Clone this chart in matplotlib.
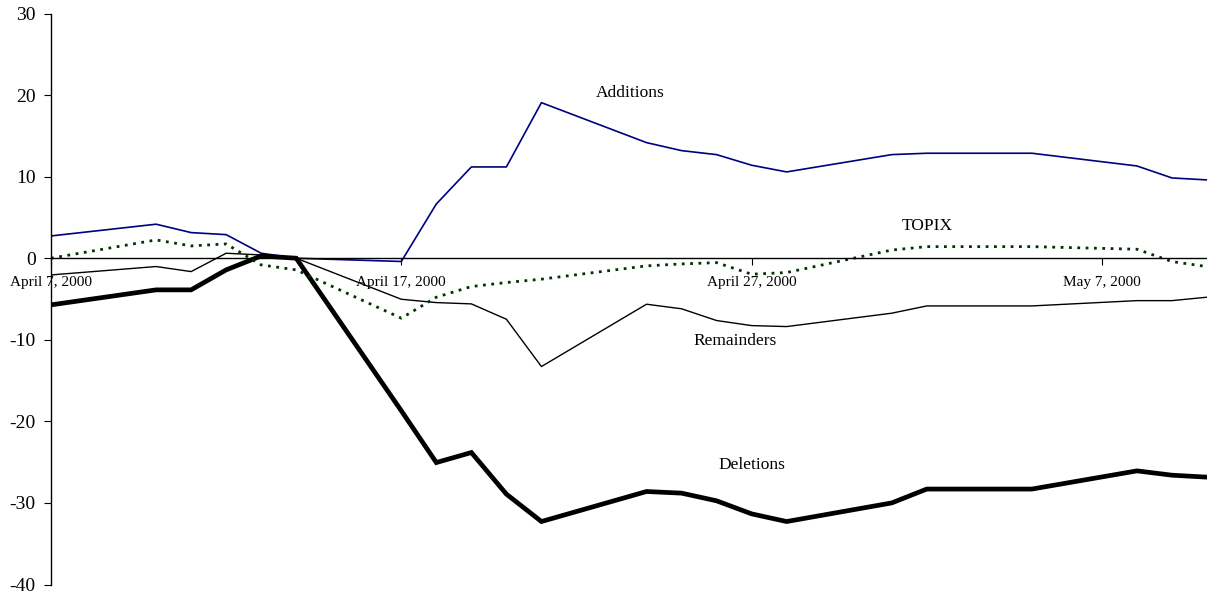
import matplotlib.pyplot as plt
import pandas as pd

# trading days shown on the chart
dates = ["2000-04-07", "2000-04-10", "2000-04-11", "2000-04-12", "2000-04-13", "2000-04-14",
         "2000-04-17", "2000-04-18", "2000-04-19", "2000-04-20", "2000-04-21",
         "2000-04-24", "2000-04-25", "2000-04-26", "2000-04-27", "2000-04-28",
         "2000-05-01", "2000-05-02", "2000-05-05", "2000-05-08", "2000-05-09", "2000-05-10"]

additions = [2.73, 4.17, 3.14, 2.89, 0.61, 0.0, -0.4, 6.65, 11.19, 11.19, 19.07,
             14.17, 13.19, 12.70, 11.4, 10.58, 12.70, 12.87, 12.87, 11.31, 9.84, 9.60]
deletions = [-5.72, -3.88, -3.88, -1.43, 0.28, 0.0, -18.7, -25.05, -23.82, -28.92, -32.28,
             -28.6, -28.8, -29.74, -31.34, -32.28, -30.0, -28.3, -28.3, -26.07, -26.6, -26.84]
remainders = [-2.05, -1.02, -1.64, 0.61, 0.4, 0.0, -5.03, -5.44, -5.6, -7.48, -13.28,
              -5.64, -6.2, -7.64, -8.26, -8.38, -6.74, -5.85, -5.85, -5.2, -5.2, -4.78]
topix = [0.0, 2.24, 1.51, 1.75, -0.82, -1.43, -7.35, -4.78, -3.47, -2.98, -2.57,
         -0.94, -0.7, -0.54, -1.96, -1.76, 1.0, 1.42, 1.42, 1.10, -0.41, -1.03]

tick_dates = ["2000-04-07", "2000-04-17", "2000-04-27", "2000-05-07"]
tick_labels = ["April 7, 2000", "April 17, 2000", "April 27, 2000", "May 7, 2000"]
y_ticks = [30, 20, 10, 0, -10, -20, -30, -40]

x = pd.to_datetime(dates)

plt.rcParams['font.family'] = ['Liberation Serif', 'DejaVu Serif']

fig = plt.figure(figsize=(12.07, 5.96), dpi=100)
ax = fig.add_axes([51 / 1207, 11.5 / 596, 1 - 51 / 1207, (584.5 - 13.5) / 596])

ax.plot(x, additions, color='#000080', lw=1.2)
ax.plot(x, remainders, color='black', lw=1.0)
ax.plot(x, deletions, color='black', lw=3.4, solid_joinstyle='miter')
ax.plot(x, topix, color='#003300', lw=2.0, linestyle=(0, (1, 2)))

ax.set_xlim(pd.Timestamp("2000-04-07"), pd.Timestamp("2000-05-10"))
ax.set_ylim(-40, 30)

for s in ['top', 'right']:
    ax.spines[s].set_visible(False)
ax.spines['bottom'].set_position(('data', 0))
ax.spines['bottom'].set_linewidth(1.0)
ax.spines['left'].set_linewidth(1.0)

ax.set_xticks(pd.to_datetime(tick_dates))
ax.set_xticklabels(tick_labels, fontsize=11)
ax.tick_params(axis='x', direction='out', length=5, pad=8)
ax.set_yticks(y_ticks)
ax.set_yticklabels([str(v) for v in y_ticks], fontsize=14)
ax.tick_params(axis='y', direction='out', length=5, pad=6)

ax.text(pd.Timestamp("2000-04-23 13:00"), 20.3, "Additions", fontsize=12.5, ha='center', va='center')
ax.text(pd.Timestamp("2000-04-27"), -25.3, "Deletions", fontsize=12.5, ha='center', va='center')
ax.text(pd.Timestamp("2000-05-02"), 3.96, "TOPIX", fontsize=12.5, ha='center', va='center')
ax.text(pd.Timestamp("2000-04-26 13:00"), -10.1, "Remainders", fontsize=12.5, ha='center', va='center')

fig.savefig("out.png", dpi=100)
